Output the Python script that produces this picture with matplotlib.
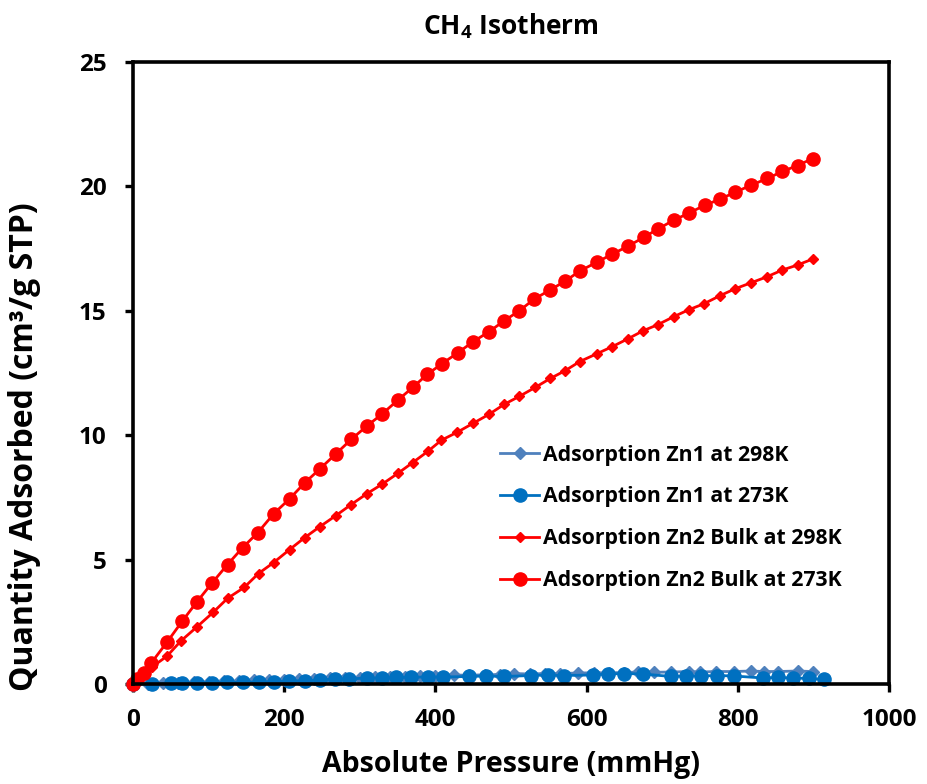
import matplotlib
matplotlib.use('Agg')
import matplotlib.pyplot as plt

plt.rcParams['font.family'] = ['Open Sans', 'DejaVu Sans']
plt.rcParams['font.weight'] = 'bold'
plt.rcParams['mathtext.default'] = 'regular'

# Zn1 at 298K (light blue diamonds)
p_zn1_298 = [0, 20, 40, 60, 80, 100, 120, 140, 160, 180, 200, 220, 240, 260, 280, 300,
             320, 340, 360, 380, 400, 425, 445, 465, 485, 504, 525, 545, 565, 589, 610,
             630, 650, 668, 689, 712, 735, 750, 771, 795, 817, 835, 853, 879, 899]
q_zn1_298 = [0, 0.01, 0.03, 0.05, 0.07, 0.09, 0.1, 0.12, 0.14, 0.16, 0.17, 0.19, 0.2, 0.22,
             0.23, 0.25, 0.26, 0.28, 0.29, 0.3, 0.32, 0.36, 0.35, 0.37, 0.38, 0.42, 0.4, 0.42,
             0.42, 0.44, 0.45, 0.45, 0.46, 0.48, 0.47, 0.48, 0.5, 0.48, 0.5, 0.5, 0.52, 0.5,
             0.5, 0.52, 0.5]

# Zn1 at 273K (blue circles)
p_zn1_273 = [0, 25, 50, 65, 84, 104, 124, 146, 166, 186, 206, 227, 247, 267, 286, 309, 329,
             348, 368, 390, 410, 445, 467, 491, 527, 549, 570, 608, 628, 650, 675, 712, 731,
             751, 773, 795, 833, 853, 873, 894, 914]
q_zn1_273 = [0, 0.0, 0.04, 0.03, 0.04, 0.05, 0.06, 0.07, 0.08, 0.09, 0.12, 0.13, 0.16, 0.2,
             0.2, 0.24, 0.24, 0.26, 0.27, 0.28, 0.28, 0.3, 0.32, 0.3, 0.34, 0.36, 0.34, 0.36,
             0.4, 0.42, 0.4, 0.3, 0.32, 0.32, 0.34, 0.32, 0.24, 0.26, 0.24, 0.22, 0.18]

# Zn2 bulk at 298K (red diamonds)
p_zn2_298 = [0, 5, 12, 25, 45, 63, 84, 106, 125, 147, 166, 186, 207, 227, 247, 268, 288, 309,
             330, 351, 370, 390, 408, 429, 450, 471, 491, 511, 532, 552, 572, 591, 614, 634,
             655, 675, 694, 715, 735, 755, 776, 796, 817, 838, 859, 879, 899]
q_zn2_298 = [0, 0.1, 0.28, 0.68, 1.12, 1.72, 2.28, 2.88, 3.44, 3.88, 4.44, 4.88, 5.4, 5.88,
             6.32, 6.76, 7.2, 7.64, 8.04, 8.48, 8.9, 9.35, 9.8, 10.12, 10.48, 10.84, 11.24,
             11.56, 11.92, 12.28, 12.6, 12.96, 13.28, 13.56, 13.88, 14.2, 14.44, 14.76, 15.04,
             15.28, 15.6, 15.88, 16.12, 16.36, 16.64, 16.84, 17.08]

# Zn2 bulk at 273K (red circles)
p_zn2_273 = [0, 5, 14.5, 24, 45, 65, 84, 104, 125, 145, 165, 186, 207, 227, 247, 268, 289,
             309, 329, 350, 370, 389, 409, 430, 450, 471, 491, 511, 531, 552, 572, 591, 614,
             634, 655, 676, 694, 715, 735, 756, 776, 796, 817, 839, 859, 879, 899]
q_zn2_273 = [0, 0.2, 0.44, 0.84, 1.68, 2.52, 3.28, 4.04, 4.8, 5.48, 6.08, 6.84, 7.44, 8.08,
             8.64, 9.24, 9.84, 10.36, 10.84, 11.4, 11.92, 12.44, 12.88, 13.32, 13.76, 14.16,
             14.6, 15.0, 15.48, 15.84, 16.2, 16.6, 16.96, 17.28, 17.6, 17.96, 18.28, 18.64,
             18.92, 19.24, 19.48, 19.76, 20.04, 20.32, 20.6, 20.84, 21.12]

fig = plt.figure(figsize=(9.27, 7.84), dpi=100)
ax = fig.add_axes([0.1435, 0.1276, 0.8155, 0.7933])

ax.plot(p_zn1_298, q_zn1_298, color='#4F81BD', marker='D', markersize=6, lw=2,
        label='Adsorption Zn1 at 298K', clip_on=False)
ax.plot(p_zn1_273, q_zn1_273, color='#0070C0', marker='o', markersize=9.5, lw=2,
        label='Adsorption Zn1 at 273K', clip_on=False)
ax.plot(p_zn2_298, q_zn2_298, color='#FF0000', marker='D', markersize=5.5, lw=2,
        label='Adsorption Zn2 Bulk at 298K', clip_on=False)
ax.plot(p_zn2_273, q_zn2_273, color='#FF0000', marker='o', markersize=9.5, lw=2,
        label='Adsorption Zn2 Bulk at 273K', clip_on=False)

ax.set_xlim(0, 1000)
ax.set_ylim(0, 25)
ax.set_xticks([0, 200, 400, 600, 800, 1000])
ax.set_yticks([0, 5, 10, 15, 20, 25])
for s in ax.spines.values():
    s.set_linewidth(2.6)
ax.tick_params(axis='both', direction='out', length=6, width=2.4, labelsize=17.5)
ax.tick_params(axis='x', pad=11)
ax.tick_params(axis='y', pad=13)

ax.set_xlabel('Absolute Pressure (mmHg)', fontsize=20.5, fontweight='bold', labelpad=13)
ax.set_ylabel('Quantity Adsorbed (cm³/g STP)', fontsize=23, fontweight='bold')
ax.yaxis.set_label_coords(-0.122, 0.381)
ax.set_title('CH$_4$ Isotherm', fontsize=19, fontweight='bold', pad=20)

ax.legend(loc='upper left', bbox_to_anchor=(0.472, 0.402), frameon=False, fontsize=15.3,
          handlelength=1.8, handletextpad=0.2, labelspacing=0.98, borderpad=0)

fig.savefig('out.png', dpi=100)
